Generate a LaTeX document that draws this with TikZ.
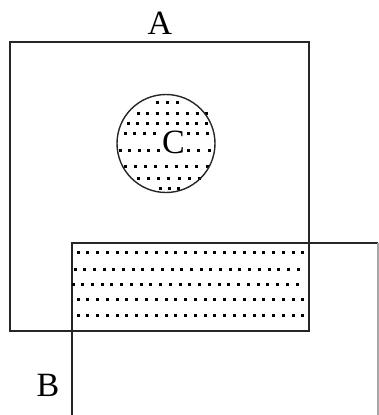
\documentclass[tikz,border=0pt]{standalone}
\usepackage{fontspec}
\setmainfont{Liberation Serif}
\newcommand{\mydotrow}[4]{% y, start x, count, spacing
  \foreach \k in {1,...,#3}
    \fill[black] ({#2+(\k-1)*#4-1.5},{#1-1.5}) rectangle ++(3,3);}
\begin{document}
\begin{tikzpicture}[x=1pt,y=-1pt,
  edge/.style={line width=1.4pt, draw=black!85},
  lbl/.style={font=\fontsize{34}{36}\selectfont, inner sep=0pt}]
\useasboundingbox (0,0) rectangle (379,415);
% set A
\draw[edge] (10,42) rectangle (309,331);
% set B (extends past the picture)
\draw[edge] (72,415) -- (72,243) -- (378,243);
\draw[line width=1.4pt, draw=black!35] (378,243) -- (378,415);
% dotted intersection
\mydotrow{252.7}{78}{24}{9.78}
\mydotrow{269}{75}{24}{9.7}
\mydotrow{284.3}{73}{24}{9.74}
\mydotrow{299.3}{78}{24}{9.78}
\mydotrow{315.7}{78}{24}{9.78}
% circle C with dots
\mydotrow{102.7}{157.6}{3}{9.8}
\mydotrow{113.3}{138}{8}{9.85}
\mydotrow{123.3}{128}{9}{9.85}
\mydotrow{133.3}{125}{4}{9.8}
\mydotrow{133.3}{188}{3}{9.85}
\mydotrow{150.7}{120}{5}{9.6}
\mydotrow{150.7}{188}{3}{10.5}
\mydotrow{166}{125}{9}{10.25}
\mydotrow{178.3}{138}{7}{10.3}
\mydotrow{188.3}{160}{3}{9}
\draw[edge] (166,143.5) circle (49);
\node[lbl] (C) at (173.5,142.5) {C};
\node[lbl] (A) at (160,23) {A};
\node[lbl] (B) at (48,385) {B};
\end{tikzpicture}
\end{document}
